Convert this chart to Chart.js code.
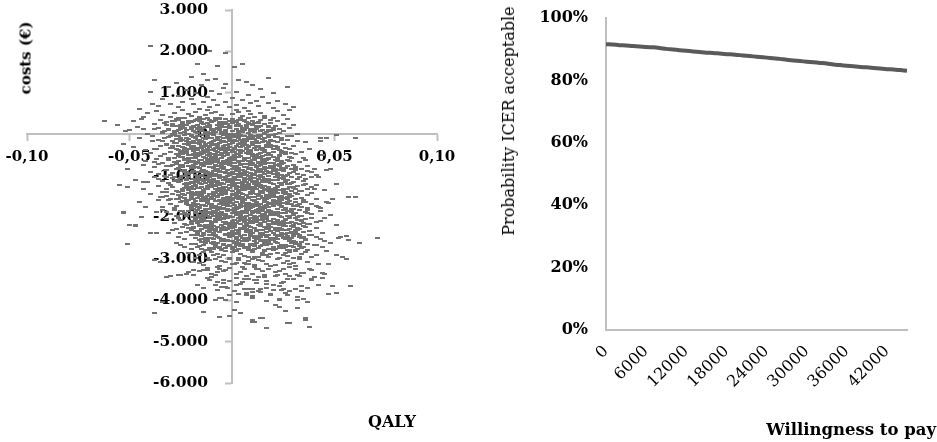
<!DOCTYPE html>
<html>
<head>
<meta charset="utf-8">
<script src="https://cdn.jsdelivr.net/npm/chart.js@4.4.1/dist/chart.umd.min.js"></script>
<style>
html,body{margin:0;padding:0;background:#fff;}
body{width:937px;height:442px;position:relative;overflow:hidden;}
canvas{position:absolute;top:0;}
#c1{left:0;}
#c2{left:490px;}
.t{position:absolute;font-family:'DejaVu Serif',serif;color:#000;white-space:nowrap;line-height:1;z-index:2;}
</style>
</head>
<body>
<canvas id="c1" width="470" height="442"></canvas>
<canvas id="c2" width="447" height="442"></canvas>
<div class="t" style="left:26px;top:58px;transform:translate(-50%,-50%) rotate(-90deg);font-weight:bold;font-size:15px;">costs (€)</div>
<div class="t" style="left:392px;top:422px;transform:translate(-50%,-50%);font-weight:bold;font-size:16px;">QALY</div>
<div class="t" style="left:509px;top:121px;transform:translate(-50%,-50%) rotate(-90deg);font-size:16px;">Probability ICER acceptable</div>
<div class="t" style="right:1px;top:430px;transform:translateY(-50%);font-weight:bold;font-size:16.5px;">Willingness to pay</div>
<script>
// ---------- Left chart: cost-effectiveness plane ----------
// each entry: [incremental QALY x 1000, incremental costs in EUR]
const incQalyCost = [
[-40,2130],[-11,2010],[-3,1970],[5,1700],[1,1620],[-17,1700],[-7,1660],[18,1370],[7,1260],[-14,1460],[-38,1300],[-12,1300],[27,1140],[-3,1220],[-40,1020],[20,1000],[-39,740],[26,740],[22,800],[30,660],[28,580],[-43,420],[-62,320],[-56,230],[30,230],[-50,100],[32,20],[43,-100],[51,-20],[60,-100],
[-20,1380],[-8,1340],[3,1310],[-27,1250],[-15,1200],[10,1180],[-4,1130],[14,1090],[-22,1070],[-10,1040],[2,1020],[-31,1150],
[-18,990],[-6,970],[8,950],[-26,930],[-12,910],[15,900],[0,880],[-34,860],[-20,850],[5,830],[-9,820],[12,810],
[-24,790],[-14,780],[-3,770],[9,760],[18,750],[-30,730],[-19,720],[-7,710],[2,700],[13,690],[-36,680],[-26,670],[-11,660],[-1,650],[6,640],[20,630],[-16,620],[-45,610],
[-28,520],[-20,440],[-12,590],[-5,470],[3,530],[11,420],[22,560],[-34,460],[-24,580],[-16,410],[-8,540],[0,480],[8,570],[16,450],[-41,510],[-30,430],[-21,500],[-13,465],[-6,405],[2,590],[9,490],[25,470],[-37,560],[-26,400],[-18,545],[-10,515],[5,435],[14,525],
[-48,330],[-33,270],[-25,390],[-17,230],[-10,300],[-3,360],[4,210],[12,280],[19,340],[-29,220],[-21,310],[-14,380],[-6,250],[1,330],[8,390],[16,240],[27,370],[-38,260],[-27,350],[-19,200],[-11,340],[-4,290],[3,240],[10,320],[21,210],[-44,380],[-32,300],[-23,235],[-15,290],[-8,385],[-1,205],[6,350],[13,265],[-35,345],[-24,280],[-16,330],[-7,215],[2,300],
[-52,90],[-36,150],[-28,40],[-20,180],[-13,60],[-6,120],[0,10],[7,160],[14,80],[23,130],[-41,20],[-31,100],[-24,170],[-17,30],[-10,140],[-3,70],[4,190],[11,50],[18,110],[28,160],[-46,170],[-34,60],[-26,110],[-19,90],[-12,190],[-5,20],[2,130],[9,80],[16,30],[-38,120],[-29,190],[-22,10],[-15,130],[-8,50],[-1,170],[5,100],[12,150],[21,20],[-33,80],[-25,30],[-17,150],[-10,100],[-3,180],[3,60],[10,120],[25,70],[-43,140],[-27,90],[-20,130],[-11,20],
[-12,-30],[7,-150],[-25,-90],[18,-20],[-3,-180],[-31,-60],[11,-110],[-8,-140],[2,-40],[-19,-170],[24,-80],[-15,-10],[5,-190],[-36,-130],[14,-50],[-6,-70],[-22,-160],[9,-100],[-1,-120],[-28,-20],[20,-170],[-10,-190],[3,-80],[-17,-50],[27,-130],[-4,-10],[12,-160],[-33,-100],[-13,-120],[6,-30],[-24,-140],[16,-90],[-7,-60],[0,-170],[-20,-40],[10,-180],[-2,-90],[-29,-170],[22,-60],[-11,-80],[-39,-30],[4,-130],[-16,-190],[13,-20],[-26,-50],[8,-70],[-5,-150],[-14,-100],[19,-140],[-21,-110],[1,-20],[-9,-160],[15,-190],[-34,-170],[-18,-70],[29,-30],[-1,-50],[-27,-120],[6,-110],[-45,-90],
[-6,-210],[14,-350],[-21,-260],[3,-390],[-14,-300],[25,-230],[-30,-330],[8,-280],[-2,-360],[-17,-220],[19,-310],[-9,-250],[-26,-380],[11,-220],[1,-320],[-12,-370],[30,-270],[-4,-290],[16,-380],[-23,-240],[5,-250],[-35,-290],[-8,-340],[22,-360],[-15,-270],[-1,-230],[12,-300],[-20,-350],[7,-340],[-28,-220],[-11,-310],[17,-260],[-5,-380],[2,-270],[-18,-390],[26,-320],[-32,-250],[9,-370],[-13,-240],[-3,-330],[13,-210],[-24,-300],[4,-300],[-7,-280],[20,-290],[-16,-330],[0,-390],[-10,-220],[15,-330],[-27,-350],[6,-220],[-19,-290],[-2,-250],[10,-250],[-38,-360],[23,-390],[-22,-380],[-6,-360],[18,-230],[-29,-270],[1,-350],[-12,-280],[8,-310],[-9,-390],[28,-350],[-16,-210],[3,-230],[12,-380],
[-3,-410],[15,-530],[-19,-470],[6,-590],[-11,-440],[24,-460],[-28,-560],[9,-420],[-6,-500],[-22,-410],[18,-580],[-14,-540],[2,-470],[-33,-480],[12,-500],[-1,-570],[-25,-450],[28,-540],[-9,-590],[20,-420],[-17,-500],[4,-520],[-37,-590],[-5,-460],[14,-450],[-20,-580],[8,-560],[-12,-510],[31,-480],[-26,-520],[0,-430],[-15,-420],[17,-510],[-8,-540],[-30,-430],[11,-590],[-2,-450],[22,-570],[-18,-530],[5,-410],[-10,-480],[-23,-590],[26,-420],[-4,-520],[13,-480],[-35,-520],[7,-450],[-16,-460],[1,-580],[19,-490],[-13,-570],[-27,-470],[10,-530],[-7,-420],[35,-560],[-21,-490],[3,-550],[-11,-600],[16,-420],[-31,-580],[-2,-490],[23,-510],[-24,-540],[8,-480],[-8,-470],[-40,-450],[15,-590],[-18,-440],[29,-440],[-5,-580],[4,-440],[12,-570],
[-2,-610],[16,-720],[-20,-660],[7,-780],[-12,-640],[25,-690],[-29,-750],[10,-620],[-6,-700],[-23,-610],[19,-770],[-15,-730],[3,-660],[-34,-680],[13,-700],[0,-760],[-26,-640],[30,-730],[-9,-790],[21,-620],[-18,-690],[5,-720],[-38,-780],[-4,-650],[15,-650],[-21,-770],[9,-750],[-13,-710],[33,-670],[-27,-710],[1,-630],[-16,-620],[18,-700],[-8,-740],[-31,-630],[12,-780],[-1,-650],[23,-760],[-19,-730],[6,-610],[-10,-680],[-24,-790],[27,-620],[-3,-720],[14,-680],[-36,-720],[8,-640],[-17,-660],[2,-770],[20,-690],[-14,-760],[-28,-670],[11,-730],[-7,-620],[37,-760],[-22,-690],[4,-740],[-11,-800],[17,-620],[-32,-770],[-1,-690],[24,-710],[-25,-740],[9,-680],[-8,-670],[-42,-650],[16,-790],[-19,-640],[28,-640],[-5,-770],[5,-640],[13,-760],[-15,-690],[31,-780],[-4,-790],[21,-740],
[3,-810],[-15,-920],[23,-860],[-6,-980],[14,-840],[-24,-890],[32,-950],[-9,-820],[7,-900],[26,-810],[-18,-970],[18,-930],[-2,-860],[37,-880],[-12,-900],[2,-960],[29,-840],[-29,-930],[11,-990],[-20,-820],[21,-890],[-4,-920],[41,-980],[5,-850],[-14,-850],[24,-970],[-8,-950],[15,-910],[-32,-870],[30,-910],[0,-830],[19,-820],[-17,-900],[9,-940],[34,-830],[-11,-980],[3,-850],[-22,-960],[22,-930],[-5,-810],[12,-880],[27,-990],[-26,-820],[6,-920],[-13,-880],[39,-920],[-7,-840],[20,-860],[-1,-970],[-19,-890],[16,-960],[31,-870],[-10,-930],[9,-820],[-36,-960],[25,-890],[-3,-940],[13,-1000],[-16,-820],[35,-970],[2,-890],[-23,-910],[28,-940],[-8,-880],[10,-870],[46,-850],[-15,-990],[21,-840],[-27,-840],[7,-970],[-4,-840],[-12,-960],[17,-890],[-30,-980],[5,-990],[-20,-940],[14,-970],[4,-930],[-6,-900],[25,-830],
[0,-1190],[18,-1080],[-20,-1140],[9,-1020],[-11,-1160],[27,-1110],[-29,-1050],[12,-1180],[-4,-1100],[-23,-1190],[21,-1030],[-15,-1070],[5,-1140],[-34,-1120],[15,-1100],[1,-1040],[-26,-1160],[32,-1070],[-8,-1010],[23,-1180],[-18,-1110],[7,-1080],[-38,-1020],[-2,-1150],[17,-1150],[-21,-1030],[11,-1050],[-12,-1090],[35,-1130],[-27,-1090],[3,-1170],[-16,-1180],[20,-1100],[-6,-1060],[-31,-1170],[14,-1020],[0,-1150],[25,-1040],[-19,-1070],[8,-1190],[-9,-1120],[-24,-1010],[29,-1180],[-3,-1080],[16,-1120],[-36,-1080],[10,-1160],[-17,-1140],[4,-1030],[22,-1110],[-13,-1040],[-28,-1130],[13,-1070],[-6,-1180],[39,-1040],[-22,-1110],[6,-1060],[-10,-1000],[19,-1180],[-32,-1030],[1,-1110],[26,-1090],[-25,-1060],[11,-1120],[-7,-1130],[-43,-1150],[18,-1010],[-18,-1160],[30,-1160],[-4,-1030],[7,-1160],[15,-1040],[-14,-1110],[33,-1020],[-2,-1010],[23,-1060],[-11,-1030],[-1,-1070],[9,-1100],[-22,-1170],[-33,-1010],[36,-1190],
[3,-1390],[-15,-1280],[23,-1340],[-6,-1220],[14,-1360],[-24,-1310],[32,-1250],[-9,-1380],[7,-1300],[26,-1390],[-18,-1230],[18,-1270],[-2,-1340],[37,-1320],[-12,-1300],[2,-1240],[29,-1360],[-29,-1270],[11,-1210],[-20,-1380],[21,-1310],[-4,-1280],[41,-1220],[5,-1350],[-14,-1350],[24,-1230],[-8,-1250],[15,-1290],[-32,-1330],[30,-1290],[0,-1370],[19,-1380],[-17,-1300],[9,-1260],[34,-1370],[-11,-1220],[3,-1350],[-22,-1240],[22,-1270],[-5,-1390],[12,-1320],[27,-1210],[-26,-1380],[6,-1280],[-13,-1320],[39,-1280],[-7,-1360],[20,-1340],[-1,-1230],[-19,-1310],[16,-1240],[31,-1330],[-10,-1270],[9,-1380],[-36,-1240],[25,-1310],[-3,-1260],[13,-1200],[-16,-1380],[35,-1230],[2,-1310],[-23,-1290],[28,-1260],[-8,-1320],[10,-1330],[45,-1350],[-15,-1210],[21,-1360],[-27,-1360],[7,-1230],[-4,-1360],[-12,-1240],[17,-1310],[-30,-1220],[5,-1210],[-20,-1260],[14,-1230],[4,-1270],[-6,-1300],[25,-1370],[36,-1210],[-34,-1390],
[2,-1410],[20,-1520],[-18,-1460],[11,-1580],[-9,-1440],[29,-1490],[-27,-1550],[14,-1420],[-2,-1500],[-21,-1410],[23,-1570],[-13,-1530],[7,-1460],[-32,-1480],[17,-1500],[3,-1560],[-24,-1440],[34,-1530],[-6,-1590],[25,-1420],[-16,-1490],[9,-1520],[-36,-1580],[0,-1450],[19,-1450],[-19,-1570],[13,-1550],[-10,-1510],[37,-1470],[-25,-1510],[5,-1430],[-14,-1420],[22,-1500],[-4,-1540],[-29,-1430],[16,-1580],[2,-1450],[27,-1560],[-17,-1530],[10,-1410],[-7,-1480],[-22,-1590],[31,-1420],[-1,-1520],[18,-1480],[-34,-1520],[12,-1440],[-15,-1460],[6,-1570],[24,-1490],[-11,-1560],[-26,-1470],[15,-1530],[-4,-1420],[41,-1560],[-20,-1490],[8,-1540],[-8,-1600],[21,-1420],[-30,-1570],[3,-1490],[28,-1510],[-23,-1540],[13,-1480],[-5,-1470],[-40,-1450],[20,-1590],[-16,-1440],[32,-1440],[-2,-1570],[9,-1440],[17,-1560],[-12,-1490],[35,-1580],[0,-1590],[25,-1540],[-9,-1570],[1,-1530],[11,-1500],[-20,-1430],[-31,-1590],[39,-1410],
[5,-1610],[-13,-1720],[25,-1660],[-4,-1780],[16,-1640],[-22,-1690],[34,-1750],[-7,-1620],[9,-1700],[28,-1610],[-16,-1770],[20,-1730],[0,-1660],[39,-1680],[-10,-1700],[4,-1760],[31,-1640],[-27,-1730],[13,-1790],[-18,-1620],[23,-1690],[-2,-1720],[43,-1780],[7,-1650],[-12,-1650],[26,-1770],[-6,-1750],[17,-1710],[-30,-1670],[32,-1710],[2,-1630],[21,-1620],[-15,-1700],[11,-1740],[36,-1630],[-9,-1780],[5,-1650],[-20,-1760],[24,-1730],[-3,-1610],[14,-1680],[29,-1790],[-24,-1620],[8,-1720],[-11,-1680],[41,-1720],[-5,-1640],[22,-1660],[1,-1770],[-17,-1690],[18,-1760],[33,-1670],[-8,-1730],[11,-1620],[-34,-1760],[27,-1690],[-1,-1740],[15,-1800],[-14,-1620],[37,-1770],[4,-1690],[-21,-1710],[30,-1740],[-6,-1680],[12,-1670],[47,-1650],[-13,-1790],[23,-1640],[-25,-1640],[9,-1770],[-2,-1640],[-10,-1760],[19,-1690],[-28,-1780],[7,-1790],[-18,-1740],[16,-1770],[6,-1730],[-4,-1700],[27,-1630],
[4,-1990],[22,-1880],[-16,-1940],[13,-1820],[-7,-1960],[31,-1910],[-25,-1850],[16,-1980],[0,-1900],[-19,-1990],[25,-1830],[-11,-1870],[9,-1940],[-30,-1920],[19,-1900],[5,-1840],[-22,-1960],[36,-1870],[-4,-1810],[27,-1980],[-14,-1910],[11,-1880],[-34,-1820],[2,-1950],[21,-1950],[-17,-1830],[15,-1850],[-8,-1890],[39,-1930],[-23,-1890],[7,-1970],[-12,-1980],[24,-1900],[-2,-1860],[-27,-1970],[18,-1820],[4,-1950],[29,-1840],[-15,-1870],[12,-1990],[-5,-1920],[-20,-1810],[33,-1980],[1,-1880],[20,-1920],[-32,-1880],[14,-1960],[-13,-1940],[8,-1830],[26,-1910],[-9,-1840],[-24,-1930],[17,-1870],[-2,-1980],[43,-1840],[-18,-1910],[10,-1860],[-6,-1800],[23,-1980],[-28,-1830],[5,-1910],[30,-1890],[-21,-1860],[15,-1920],[-3,-1930],[22,-1810],[-14,-1960],[34,-1960],[0,-1830],[11,-1960],[19,-1840],[-10,-1910],[37,-1820],[2,-1810],[27,-1860],[-7,-1830],[3,-1870],[13,-1900],
[7,-2190],[-11,-2080],[27,-2140],[-2,-2020],[18,-2160],[-20,-2110],[36,-2050],[-5,-2180],[11,-2100],[30,-2190],[-14,-2030],[22,-2070],[2,-2140],[41,-2120],[-8,-2100],[6,-2040],[33,-2160],[-25,-2070],[15,-2010],[-16,-2180],[25,-2110],[0,-2080],[45,-2020],[9,-2150],[-10,-2150],[28,-2030],[-4,-2050],[19,-2090],[-28,-2130],[34,-2090],[4,-2170],[23,-2180],[-13,-2100],[13,-2060],[38,-2170],[-7,-2020],[7,-2150],[-18,-2040],[26,-2070],[-1,-2190],[16,-2120],[31,-2010],[-22,-2180],[10,-2080],[-9,-2120],[43,-2080],[-3,-2160],[24,-2140],[3,-2030],[-15,-2110],[20,-2040],[35,-2130],[-6,-2070],[13,-2180],[-32,-2040],[29,-2110],[1,-2060],[17,-2000],[-12,-2180],[39,-2030],[6,-2110],[-19,-2090],[32,-2060],[-4,-2120],[14,-2130],[-11,-2010],[25,-2160],[-23,-2160],[11,-2030],[0,-2160],[-8,-2040],[21,-2110],[-26,-2020],[8,-2070],
[6,-2210],[24,-2320],[-13,-2260],[15,-2380],[-4,-2240],[33,-2290],[-22,-2350],[18,-2220],[2,-2300],[-16,-2210],[27,-2370],[-8,-2330],[11,-2260],[-27,-2280],[21,-2300],[7,-2360],[-19,-2240],[38,-2330],[-1,-2390],[29,-2220],[-11,-2290],[13,-2320],[-31,-2380],[4,-2250],[23,-2250],[-14,-2370],[17,-2350],[-5,-2310],[41,-2270],[-20,-2310],[9,-2230],[-9,-2220],[26,-2300],[0,-2340],[-24,-2230],[20,-2380],[6,-2250],[31,-2360],[-12,-2330],[14,-2210],[-2,-2280],[-17,-2390],[35,-2220],[3,-2320],[22,-2280],[-29,-2320],[16,-2240],[-10,-2260],[10,-2370],[28,-2290],[-6,-2360],[-21,-2270],[19,-2330],[1,-2220],[-15,-2290],[12,-2340],[-3,-2400],[25,-2220],[-25,-2370],[7,-2290],[32,-2310],[-18,-2340],[17,-2280],[0,-2270],[24,-2390],[-11,-2240],[36,-2240],[2,-2370],
[9,-2410],[-9,-2520],[27,-2460],[0,-2580],[18,-2440],[-18,-2490],[36,-2550],[-3,-2420],[13,-2500],[30,-2410],[-12,-2570],[22,-2530],[4,-2460],[41,-2480],[-6,-2500],[8,-2560],[33,-2440],[-23,-2530],[16,-2590],[-14,-2420],[25,-2490],[2,-2520],[45,-2580],[11,-2450],[-8,-2450],[28,-2570],[-2,-2550],[19,-2510],[-26,-2470],[34,-2510],[6,-2430],[23,-2420],[-11,-2500],[15,-2540],[38,-2430],[-5,-2580],[9,-2450],[-16,-2560],[26,-2530],[1,-2410],[17,-2480],[31,-2590],[-20,-2420],[12,-2520],[-7,-2480],[43,-2520],[-1,-2440],[24,-2460],[5,-2570],[-13,-2490],[20,-2560],[35,-2470],[-4,-2530],[14,-2420],[29,-2490],[3,-2540],[-10,-2420],[7,-2490],[21,-2600],[-17,-2440],
[8,-2790],[26,-2680],[-9,-2740],[17,-2620],[0,-2760],[35,-2710],[-18,-2650],[20,-2780],[4,-2700],[-12,-2790],[29,-2630],[-4,-2670],[13,-2740],[-23,-2720],[23,-2700],[9,-2640],[-15,-2760],[40,-2670],[2,-2610],[31,-2780],[-7,-2710],[15,-2680],[-27,-2620],[6,-2750],[25,-2750],[-10,-2630],[19,-2650],[-1,-2690],[44,-2730],[-16,-2690],[11,-2770],[-5,-2780],[28,-2700],[3,-2660],[-20,-2770],[22,-2620],[8,-2750],[33,-2640],[-8,-2670],[16,-2790],[1,-2720],[-13,-2610],[37,-2780],[5,-2680],[24,-2720],[-25,-2680],[18,-2760],[-6,-2740],[12,-2630],[30,-2710],
[11,-2990],[-7,-2880],[27,-2940],[2,-2820],[18,-2960],[-16,-2910],[36,-2850],[-1,-2980],[15,-2900],[30,-2990],[-10,-2830],[22,-2870],[6,-2940],[41,-2920],[-4,-2900],[10,-2840],[33,-2960],[-21,-2870],[16,-2810],[-12,-2980],[25,-2910],[4,-2880],[46,-2820],[13,-2950],[-6,-2950],[28,-2830],[0,-2850],[19,-2890],[34,-2890],[8,-2970],[23,-2980],[-9,-2900],[15,-2860],[39,-2970],[-3,-2820],[11,-2950],[-14,-2840],[26,-2870],[3,-2990],[17,-2920],[31,-2810],[-18,-2980],
[10,-3010],[28,-3120],[-5,-3060],[19,-3180],[3,-3040],[37,-3090],[-14,-3150],[22,-3020],[6,-3100],[-8,-3010],[31,-3170],[0,-3130],[15,-3060],[-19,-3080],[25,-3100],[11,-3160],[-11,-3040],[42,-3130],[5,-3190],[33,-3020],[-3,-3090],[17,-3120],[8,-3050],[27,-3050],[-6,-3170],[21,-3150],[2,-3110],[-16,-3110],[13,-3030],[-1,-3020],[30,-3100],[7,-3140],
[11,-3210],[-7,-3320],[25,-3260],[2,-3380],[18,-3240],[-16,-3290],[34,-3350],[-1,-3220],[15,-3300],[28,-3210],[-10,-3370],[21,-3330],[6,-3260],[39,-3280],[-4,-3300],[10,-3360],[31,-3240],[-21,-3330],[16,-3390],[-12,-3220],[23,-3290],[4,-3320],[13,-3250],[-6,-3250],[26,-3370],
[12,-3590],[30,-3480],[-1,-3540],[21,-3420],[5,-3560],[39,-3510],[-10,-3450],[24,-3580],[8,-3500],[-4,-3590],[33,-3430],[2,-3470],[17,-3540],[27,-3500],[13,-3440],[-7,-3560],[44,-3470],[7,-3410],
[13,-3790],[-5,-3680],[25,-3740],[4,-3620],[20,-3760],[-14,-3710],[34,-3650],[1,-3780],[17,-3700],[28,-3790],[-8,-3630],[23,-3670],[8,-3740],[-2,-3700],
[14,-3810],[32,-3920],[3,-3860],[23,-3980],[7,-3840],[-5,-3950],[26,-3820],[10,-3900],[35,-3970],[19,-3860],
[-53,-230],[-48,-310],[-51,-830],[-55,-1230],[-51,-1270],[-53,-1870],[-50,-2190],[-47,-2190],[-45,-1630],[-43,-1310],[-47,-1110],[-41,-1150],[-40,-910],[-43,-750],[-38,-670],[-37,-350],[-39,-150],[-42,-390],[-35,-1510],[-32,-1390],[-37,-1870],[-42,-1750],[-44,-1990],[-53,-1890],[-51,-2650],[-47,-2210],[-38,-3040],[-30,-3420],[-25,-3400],[-19,-3400],[-14,-3280],[-17,-3640],[-11,-3520],[-7,-3760],[-37,-2390],[-40,-2390],
[43,-150],[46,-100],[38,-350],[34,-430],[36,-630],[40,-830],[48,-830],[51,-1190],[57,-1510],[60,-1510],[49,-1550],[46,-1630],[42,-1750],[48,-1950],[51,-2190],[41,-2110],[37,-1910],[40,-1310],[36,-1070],[42,-1030],[44,-510],[36,-190],[32,-150],[71,-2510],[62,-2630],[58,-3660],[51,-3820],[47,-3860],[56,-3000],[54,-2960],[57,-2550],[53,-2480],[48,-2630],[45,-3360],
[-38,-4300],[-14,-4280],[-6,-4400],[-1,-4380],[10,-4540],[17,-4680],[28,-4560],[38,-4660],[36,-4440],[-8,-4000],[-3,-4000],[1,-4240],[14,-4420],[23,-4160],[32,-4180],[37,-4040],
[-26,-3400],[-12,-3470],[-6,-3950],[-1,-3880],[2,-4040],[4,-4310],[7,-3880],[10,-3950],[10,-4480],[-34,-4040],[-35,-3080],[-32,-3440],[-22,-3360],[-19,-3280],[-12,-3280],[-8,-3400],[-4,-3520],[-3,-3680],[2,-3640],[6,-3720],[10,-3720],[11,-3520],[6,-3480],[-7,-3200],[-3,-3280],[1,-3120],[8,-3120],[12,-3240],
[56,-2460],[52,-2490],[44,-2390],[41,-2670],[51,-2920],[47,-3120],[44,-3340],[49,-3660],[40,-3440],[42,-3640],[37,-4040],[32,-4000],[36,-4470],[27,-4560],[15,-4440],[11,-4520],[26,-4270],[21,-4120],[17,-4020],[23,-4000],[34,-3780],[37,-3700],[31,-3740],[27,-3880],[24,-3760],[19,-3880],[20,-3640],[25,-3560],[32,-3400],[35,-3340],[38,-3260],[39,-3480],[28,-3420],[22,-3400],[16,-3440],[12,-3520],[10,-3800],[14,-3720],[17,-3600],
[-27,365],[-14,250],[-1,325],[12,210],[-20,290],[4,380],[19,270],[-8,345],[-32,235],[7,305],[-11,215],[14,355],[-23,395],[-4,260],[22,330],[-16,375],[2,225],[-29,315],[9,245],[-6,300],[16,385],[-18,340],[0,275],[-25,220],[5,350],[-12,280],[25,240],[-3,370],
[18,165],[5,50],[-8,125],[-21,10],[11,90],[-13,180],[-28,70],[-1,145],[23,35],[-16,105],[2,15],[-23,155],[14,195],[-5,60],[-31,130],[7,175],[-11,25],[20,115],[-18,45],[-3,100],[-25,185],[9,140],[-9,75],[16,20],[-14,150],[3,80],[-34,40],[-6,170],
[-25,-165],[-12,-50],[1,-125],[14,-10],[-18,-90],[6,-180],[21,-70],[-6,-145],[-30,-35],[9,-105],[-9,-15],[16,-155],[-21,-195],[-2,-60],[24,-130],[-14,-175],[4,-25],[-27,-115],[11,-45],[-4,-100],[18,-185],[-16,-140],[2,-75],[-23,-20],[7,-150],[-10,-80],[27,-40],[-1,-170],
[20,-365],[7,-250],[-6,-325],[-19,-210],[13,-290],[-11,-380],[-26,-270],[1,-345],[25,-235],[-14,-305],[4,-215],[-21,-355],[16,-395],[-3,-260],[-29,-330],[9,-375],[-9,-225],[22,-315],[-16,-245],[-1,-300],[-23,-385],[11,-340],[-7,-275],[18,-220],[-12,-350],[5,-280],[-32,-240],[-4,-370],
[-23,-435],[-10,-550],[3,-475],[16,-590],[-16,-510],[8,-420],[23,-530],[-4,-455],[-28,-565],[11,-495],[-7,-585],[18,-445],[-19,-405],[0,-540],[26,-470],[-12,-425],[6,-575],[-25,-485],[13,-555],[-2,-500],[20,-415],[-14,-460],[4,-525],[-21,-580],[9,-450],[-8,-520],[29,-560],[1,-430],
[22,-635],[9,-750],[-4,-675],[-17,-790],[15,-710],[-9,-620],[-24,-730],[3,-655],[27,-765],[-12,-695],[6,-785],[-19,-645],[18,-605],[-1,-740],[-27,-670],[11,-625],[-7,-775],[24,-685],[-14,-755],[1,-700],[-21,-615],[13,-660],[-5,-725],[20,-780],[-10,-650],[7,-720],[-30,-760],[-2,-630],
[-21,-965],[-8,-850],[5,-925],[18,-810],[-14,-890],[10,-980],[25,-870],[-2,-945],[-26,-835],[13,-905],[-5,-815],[20,-955],[-17,-995],[2,-860],[28,-930],[-10,-975],[8,-825],[-23,-915],[15,-845],[0,-900],[22,-985],[-12,-940],[6,-875],[-19,-820],[11,-950],[-6,-880],[31,-840],[3,-970],
[24,-1165],[11,-1050],[-2,-1125],[-15,-1010],[17,-1090],[-7,-1180],[-22,-1070],[5,-1145],[29,-1035],[-10,-1105],[8,-1015],[-17,-1155],[20,-1195],[1,-1060],[-25,-1130],[13,-1175],[-5,-1025],[26,-1115],[-12,-1045],[3,-1100],[-19,-1185],[15,-1140],[-3,-1075],[22,-1020],[-8,-1150],[9,-1080],[-28,-1040],[0,-1170],
[-19,-1235],[-6,-1350],[7,-1275],[20,-1390],[-12,-1310],[12,-1220],[27,-1330],[0,-1255],[-24,-1365],[15,-1295],[-3,-1385],[22,-1245],[-15,-1205],[4,-1340],[30,-1270],[-8,-1225],[10,-1375],[-21,-1285],[17,-1355],[2,-1300],[24,-1215],[-10,-1260],[8,-1325],[-17,-1380],[13,-1250],[-4,-1320],[33,-1360],[5,-1230],
[26,-1435],[13,-1550],[0,-1475],[-13,-1590],[19,-1510],[-5,-1420],[-20,-1530],[7,-1455],[31,-1565],[-8,-1495],[10,-1585],[-15,-1445],[22,-1405],[3,-1540],[-23,-1470],[15,-1425],[-3,-1575],[28,-1485],[-10,-1555],[5,-1500],[-17,-1415],[17,-1460],[-1,-1525],[24,-1580],[-6,-1450],[11,-1520],[-26,-1560],[2,-1430],
[-17,-1765],[-4,-1650],[9,-1725],[22,-1610],[-10,-1690],[14,-1780],[29,-1670],[2,-1745],[-22,-1635],[17,-1705],[-1,-1615],[24,-1755],[-13,-1795],[6,-1660],[32,-1730],[-6,-1775],[12,-1625],[-19,-1715],[19,-1645],[4,-1700],[26,-1785],[-8,-1740],[10,-1675],[-15,-1620],[15,-1750],[-2,-1680],[35,-1640],[7,-1770],
[28,-1965],[15,-1850],[2,-1925],[-11,-1810],[21,-1890],[-3,-1980],[-18,-1870],[9,-1945],[33,-1835],[-6,-1905],[12,-1815],[-13,-1955],[24,-1995],[5,-1860],[-21,-1930],[17,-1975],[-1,-1825],[30,-1915],[-8,-1845],[7,-1900],[-15,-1985],[19,-1940],[1,-1875],[26,-1820],[-4,-1950],[13,-1880],[-24,-1840],[4,-1970],
[-15,-2035],[-2,-2150],[11,-2075],[24,-2190],[-8,-2110],[16,-2020],[31,-2130],[4,-2055],[-20,-2165],[19,-2095],[1,-2185],[26,-2045],[-11,-2005],[8,-2140],[34,-2070],[-4,-2025],[14,-2175],[-17,-2085],[21,-2155],[6,-2100],[28,-2015],[-6,-2060],[12,-2125],[-13,-2180],[17,-2050],[0,-2120],[37,-2160],[9,-2030],
[30,-2235],[17,-2350],[4,-2275],[-9,-2390],[23,-2310],[-1,-2220],[-16,-2330],[11,-2255],[35,-2365],[-4,-2295],[14,-2385],[-11,-2245],[26,-2205],[7,-2340],[-19,-2270],[19,-2225],[1,-2375],[32,-2285],[-6,-2355],[9,-2300],[-13,-2215],[21,-2260],[3,-2325],[28,-2380],[-2,-2250],[15,-2320],[-22,-2360],[6,-2230],
[-13,-2565],[0,-2450],[13,-2525],[26,-2410],[-6,-2490],[18,-2580],[33,-2470],[6,-2545],[-18,-2435],[21,-2505],[3,-2415],[28,-2555],[-9,-2595],[10,-2460],[36,-2530],[-2,-2575],[16,-2425],[-15,-2515],[23,-2445],[8,-2500],[30,-2585],[-4,-2540],[14,-2475],[-11,-2420],[19,-2550],[2,-2480],[39,-2440],[11,-2570],
[32,-2765],[19,-2650],[6,-2725],[-7,-2610],[25,-2690],[1,-2780],[-14,-2670],[13,-2745],[37,-2635],[-2,-2705],[16,-2615],[-9,-2755],[28,-2795],[9,-2660],[-17,-2730],[21,-2775],[3,-2625],[34,-2715],[-4,-2645],[11,-2700],[-11,-2785],[23,-2740],[5,-2675],[30,-2620],[0,-2750],[17,-2680],[-20,-2640],[8,-2770],
[-24,300],[-11,210],[3,340],[16,260],[-17,370],[-3,290],[10,230],[-29,250],[-7,380],[6,320],[20,395],[-21,275],[0,365],[-14,240],[13,305],[-26,345],[-5,215],[8,265],[-19,330],[18,205],[-9,310],[4,390],[-22,220],[-2,255],[14,355],[-15,285],[2,235],[-6,360],[11,280],[-12,395],[7,225],[-28,315],
[15,100],[2,190],[-12,60],[-25,140],[8,30],[-6,110],[-19,170],[20,150],[-2,20],[-15,80],[-29,5],[12,125],[-9,35],[5,160],[-22,95],[17,55],[-4,185],[-17,135],[10,70],[-27,195],[0,90],[-13,10],[13,180],[-7,145],[-23,45],[6,115],[-11,165],[-3,40],[-20,120],[3,5],[-16,175],[19,85],
[-22,-100],[-9,-10],[5,-140],[18,-60],[-15,-170],[-1,-90],[12,-30],[-27,-50],[-5,-180],[8,-120],[22,-195],[-19,-75],[2,-165],[-12,-40],[15,-105],[-24,-145],[-3,-15],[10,-65],[-17,-130],[20,-5],[-7,-110],[6,-190],[-20,-20],[0,-55],[16,-155],[-13,-85],[4,-35],[-4,-160],[13,-80],[-10,-195],[9,-25],[-26,-115],
[17,-300],[4,-390],[-10,-260],[-23,-340],[10,-230],[-4,-310],[-17,-370],[22,-350],[0,-220],[-13,-280],[-27,-205],[14,-325],[-7,-235],[7,-360],[-20,-295],[19,-255],[-2,-385],[-15,-335],[12,-270],[-25,-395],[2,-290],[-11,-210],[15,-380],[-5,-345],[-21,-245],[8,-315],[-9,-365],[-1,-240],[-18,-320],[5,-205],[-14,-375],[21,-285],
[-20,-500],[-7,-590],[7,-460],[20,-540],[-13,-430],[1,-510],[14,-570],[-25,-550],[-3,-420],[10,-480],[24,-405],[-17,-525],[4,-435],[-10,-560],[17,-495],[-22,-455],[-1,-585],[12,-535],[-15,-470],[22,-595],[-5,-490],[8,-410],[-18,-580],[2,-545],[18,-445],[-11,-515],[6,-565],[-2,-440],[15,-520],[-8,-405],[11,-575],[-24,-485],
[19,-700],[6,-610],[-8,-740],[-21,-660],[12,-770],[-2,-690],[-15,-630],[24,-650],[2,-780],[-11,-720],[-25,-795],[16,-675],[-5,-765],[9,-640],[-18,-705],[21,-745],[0,-615],[-13,-665],[14,-730],[-23,-605],[4,-710],[-9,-790],[17,-620],[-3,-655],[-19,-755],[10,-685],[-7,-635],[1,-760],[-16,-680],[7,-795],[-12,-625],[23,-715],
[-18,-900],[-5,-810],[9,-940],[22,-860],[-11,-970],[3,-890],[16,-830],[-23,-850],[-1,-980],[12,-920],[26,-995],[-15,-875],[6,-965],[-8,-840],[19,-905],[-20,-945],[1,-815],[14,-865],[-13,-930],[24,-805],[-3,-910],[10,-990],[-16,-820],[4,-855],[20,-955],[-9,-885],[8,-835],[0,-960],[17,-880],[-6,-995],[13,-825],[-22,-915],
[21,-1100],[8,-1190],[-6,-1060],[-19,-1140],[14,-1030],[0,-1110],[-13,-1170],[26,-1150],[4,-1020],[-9,-1080],[-23,-1005],[18,-1125],[-3,-1035],[11,-1160],[-16,-1095],[23,-1055],[2,-1185],[-11,-1135],[16,-1070],[-21,-1195],[6,-1090],[-7,-1010],[19,-1180],[-1,-1145],[-17,-1045],[12,-1115],[-5,-1165],[3,-1040],[-14,-1120],[9,-1005],[-10,-1175],[25,-1085],
[-16,-1300],[-3,-1390],[11,-1260],[24,-1340],[-9,-1230],[5,-1310],[18,-1370],[-21,-1350],[1,-1220],[14,-1280],[28,-1205],[-13,-1325],[8,-1235],[-6,-1360],[21,-1295],[-18,-1255],[3,-1385],[16,-1335],[-11,-1270],[26,-1395],[-1,-1290],[12,-1210],[-14,-1380],[6,-1345],[22,-1245],[-7,-1315],[10,-1365],[2,-1240],[19,-1320],[-4,-1205],[15,-1375],[-20,-1285],
[23,-1500],[10,-1410],[-4,-1540],[-17,-1460],[16,-1570],[2,-1490],[-11,-1430],[28,-1450],[6,-1580],[-7,-1520],[-21,-1595],[20,-1475],[-1,-1565],[13,-1440],[-14,-1505],[25,-1545],[4,-1415],[-9,-1465],[18,-1530],[-19,-1405],[8,-1510],[-5,-1590],[21,-1420],[1,-1455],[-15,-1555],[14,-1485],[-3,-1435],[5,-1560],[-12,-1480],[11,-1595],[-8,-1425],[27,-1515],
[-14,-1700],[-1,-1610],[13,-1740],[26,-1660],[-7,-1770],[7,-1690],[20,-1630],[-19,-1650],[3,-1780],[16,-1720],[30,-1795],[-11,-1675],[10,-1765],[-4,-1640],[23,-1705],[-16,-1745],[5,-1615],[18,-1665],[-9,-1730],[28,-1605],[1,-1710],[14,-1790],[-12,-1620],[8,-1655],[24,-1755],[-5,-1685],[12,-1635],[4,-1760],[21,-1680],[-2,-1795],[17,-1625],[-18,-1715],
[25,-1900],[12,-1990],[-2,-1860],[-15,-1940],[18,-1830],[4,-1910],[-9,-1970],[30,-1950],[8,-1820],[-5,-1880],[-19,-1805],[22,-1925],[1,-1835],[15,-1960],[-12,-1895],[27,-1855],[6,-1985],[-7,-1935],[20,-1870],[-17,-1995],[10,-1890],[-3,-1810],[23,-1980],[3,-1945],[-13,-1845],[16,-1915],[-1,-1965],[7,-1840],[-10,-1920],[13,-1805],[-6,-1975],[29,-1885],
[-12,-2100],[1,-2190],[15,-2060],[28,-2140],[-5,-2030],[9,-2110],[22,-2170],[-17,-2150],[5,-2020],[18,-2080],[32,-2005],[-9,-2125],[12,-2035],[-2,-2160],[25,-2095],[-14,-2055],[7,-2185],[20,-2135],[-7,-2070],[30,-2195],[3,-2090],[16,-2010],[-10,-2180],[10,-2145],[26,-2045],[-3,-2115],[14,-2165],[6,-2040],[23,-2120],[0,-2005],[19,-2175],[-16,-2085],
[27,-2300],[14,-2210],[0,-2340],[-13,-2260],[20,-2370],[6,-2290],[-7,-2230],[32,-2250],[10,-2380],[-3,-2320],[-17,-2395],[24,-2275],[3,-2365],[17,-2240],[-10,-2305],[29,-2345],[8,-2215],[-5,-2265],[22,-2330],[-15,-2205],[12,-2310],[-1,-2390],[25,-2220],[5,-2255],[-11,-2355],[18,-2285],[1,-2235],[9,-2360],[-8,-2280],[15,-2395],[-4,-2225],[31,-2315],
[-10,-2500],[3,-2410],[17,-2540],[30,-2460],[-3,-2570],[11,-2490],[24,-2430],[-15,-2450],[7,-2580],[20,-2520],[34,-2595],[-7,-2475],[14,-2565],[0,-2440],[27,-2505],[-12,-2545],[9,-2415],[22,-2465],[-5,-2530],[32,-2405],[5,-2510],[18,-2590],[-8,-2420],[12,-2455],[28,-2555],[-1,-2485],[16,-2435],[8,-2560],[25,-2480],[2,-2595],[21,-2425],[-14,-2515],
[29,-2700],[16,-2790],[2,-2660],[-11,-2740],[22,-2630],[8,-2710],[-5,-2770],[34,-2750],[12,-2620],[-1,-2680],[-15,-2605],[26,-2725],[5,-2635],[19,-2760],[-8,-2695],[31,-2655],[10,-2785],[-3,-2735],[24,-2670],[-13,-2795],[14,-2690],[1,-2610],[27,-2780],[7,-2745],[-9,-2645],[20,-2715],[3,-2765],[11,-2640],[-6,-2720],[17,-2605],[0,-2775],[33,-2685]
];
const qalyTicks = [-0.10, -0.05, 0, 0.05, 0.10];
const costTicks = [3000, 2000, 1000, 0, -1000, -2000, -3000, -4000, -5000, -6000];

// ---------- Right chart: acceptability curve ----------
const wtpLabels = [0,1000,2000,3000,4000,5000,6000,7000,8000,9000,10000,11000,12000,13000,14000,15000,16000,17000,18000,19000,20000,21000,22000,23000,24000,25000,26000,27000,28000,29000,30000,31000,32000,33000,34000,35000,36000,37000,38000,39000,40000,41000,42000,43000,44000,45000];
const probAcceptable = [91.6,91.5,91.3,91.2,91.0,90.9,90.7,90.6,90.4,90.1,89.9,89.7,89.5,89.3,89.1,88.9,88.8,88.6,88.4,88.3,88.1,87.9,87.7,87.5,87.3,87.1,86.9,86.6,86.4,86.2,86.0,85.8,85.6,85.4,85.1,84.9,84.7,84.5,84.3,84.2,84.0,83.8,83.6,83.5,83.3,83.1];
const percentTicks = [0, 20, 40, 60, 80, 100];

function fmtCost(v) {
  if (v === 0) return '0';
  const s = String(Math.abs(v)).replace(/\B(?=(\d{3})+(?!\d))/g, '.');
  return (v < 0 ? '-' : '') + s;
}
function fmtQaly(v) {
  if (Math.abs(v) < 1e-9) return '-';
  return (v < 0 ? '-' : '') + Math.abs(v).toFixed(2).replace('.', ',');
}

const mk = document.createElement('canvas');
mk.width = 5; mk.height = 2;
const g = mk.getContext('2d');
g.fillStyle = '#727272';
g.fillRect(0, 0, 5, 2);

const AX = '#bfbfbf';
const serif = 'DejaVu Serif';

new Chart(document.getElementById('c1'), {
  type: 'scatter',
  data: {
    datasets: [{
      data: incQalyCost.map(p => ({x: p[0] / 1000, y: p[1]})),
      pointStyle: mk,
      pointRadius: 2.5,
      showLine: false
    }]
  },
  options: {
    responsive: false,
    animation: false,
    events: [],
    layout: {padding: {left: 27, right: 33, top: 10, bottom: 59}},
    plugins: {legend: {display: false}, tooltip: {enabled: false}},
    scales: {
      x: {
        type: 'linear', min: -0.1, max: 0.1, position: {y: 0}, z: 1,
        afterBuildTicks: s => { s.ticks = qalyTicks.map(v => ({value: v})); },
        afterFit: s => { s.paddingLeft = 0; s.paddingRight = 0; },
        grid: {display: true, drawOnChartArea: false, drawTicks: true, tickLength: 6, tickColor: AX, tickWidth: 2, color: AX},
        border: {display: true, color: AX, width: 2},
        ticks: {padding: 8, color: '#000', maxRotation: 0, autoSkip: false,
          font: {family: serif, weight: 'bold', size: 15}, callback: v => fmtQaly(v)}
      },
      y: {
        type: 'linear', min: -6000, max: 3000, position: 'center', z: 1,
        afterBuildTicks: s => { s.ticks = costTicks.map(v => ({value: v})); },
        afterFit: s => { s.paddingTop = 0; s.paddingBottom = 0; },
        grid: {display: true, drawOnChartArea: false, drawTicks: true, tickLength: 6, tickColor: AX, tickWidth: 2, color: AX},
        border: {display: true, color: AX, width: 2},
        ticks: {padding: 18, color: '#000', autoSkip: false,
          font: {family: serif, weight: 'bold', size: 15.5}, callback: v => fmtCost(v)}
      }
    }
  }
});

new Chart(document.getElementById('c2'), {
  type: 'line',
  data: {
    labels: wtpLabels,
    datasets: [{
      data: probAcceptable,
      borderColor: '#5a5a5a',
      borderWidth: 4,
      pointRadius: 0,
      tension: 0.3,
      fill: false
    }]
  },
  options: {
    responsive: false,
    animation: false,
    events: [],
    layout: {padding: {left: 0, right: 30, top: 18, bottom: 0}},
    plugins: {legend: {display: false}, tooltip: {enabled: false}},
    scales: {
      x: {
        grid: {display: true, drawOnChartArea: false, drawTicks: false},
        border: {display: true, color: AX, width: 2},
        afterFit: s => { s.height = 112; s.paddingLeft = 0; s.paddingRight = 0; },
        ticks: {autoSkip: false, maxRotation: 45, minRotation: 45, padding: 12, color: '#000',
          font: {family: serif, size: 16},
          callback: function (v) { const l = wtpLabels[v]; return (l % 6000 === 0) ? String(l) : ''; }}
      },
      y: {
        min: 0, max: 100,
        afterBuildTicks: s => { s.ticks = percentTicks.map(v => ({value: v})); },
        grid: {display: true, drawOnChartArea: false, drawTicks: false},
        border: {display: true, color: AX, width: 2},
        afterFit: s => { s.width = 116; s.paddingTop = 0; s.paddingBottom = 0; },
        ticks: {padding: 18, color: '#000', font: {family: serif, weight: 'bold', size: 16}, callback: v => v + '%'}
      }
    }
  }
});
</script>
</body>
</html>
